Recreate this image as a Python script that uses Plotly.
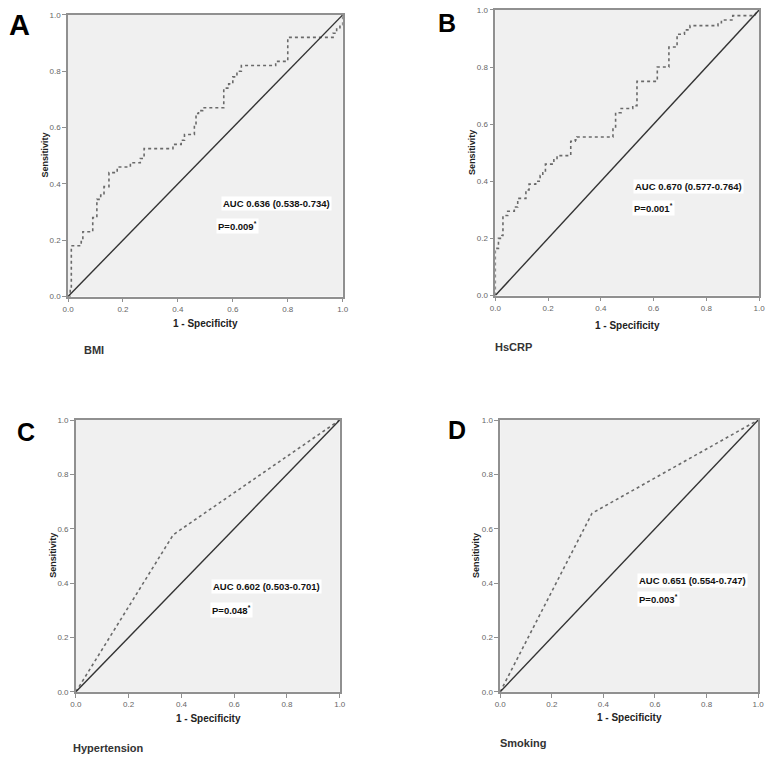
import plotly.graph_objects as go

W, H = 774, 763

# ---- data ----
bmi_fpr = [0.0, 0.008, 0.008, 0.012, 0.012, 0.048, 0.048, 0.054, 0.054, 0.063, 0.063, 0.090, 0.090, 0.105, 0.105,
           0.119, 0.119, 0.131, 0.131, 0.149, 0.149, 0.179, 0.179, 0.227, 0.227, 0.263, 0.263, 0.277, 0.277,
           0.382, 0.382, 0.412, 0.412, 0.424, 0.424, 0.460, 0.460, 0.466, 0.466, 0.475, 0.475, 0.490, 0.490,
           0.567, 0.567, 0.585, 0.585, 0.600, 0.600, 0.615, 0.615, 0.631, 0.631, 0.756, 0.756, 0.800, 0.800,
           0.950, 0.950, 0.965, 0.965, 0.978, 0.978, 0.990, 0.990, 1.0, 1.0]
bmi_tpr = [0.0, 0.0, 0.030, 0.030, 0.180, 0.180, 0.195, 0.195, 0.230, 0.230, 0.230, 0.230, 0.280, 0.280, 0.345,
           0.345, 0.360, 0.360, 0.390, 0.390, 0.440, 0.440, 0.460, 0.460, 0.475, 0.475, 0.490, 0.490, 0.525,
           0.525, 0.540, 0.540, 0.555, 0.555, 0.575, 0.575, 0.610, 0.610, 0.650, 0.650, 0.660, 0.660, 0.670,
           0.670, 0.740, 0.740, 0.755, 0.755, 0.780, 0.780, 0.800, 0.800, 0.820, 0.820, 0.835, 0.835, 0.920,
           0.920, 0.920, 0.920, 0.935, 0.935, 0.950, 0.950, 0.965, 0.965, 1.0]

crp_fpr = [0.0, 0.0, 0.012, 0.012, 0.025, 0.025, 0.029, 0.029, 0.047, 0.047, 0.072, 0.072, 0.085, 0.085, 0.116,
           0.116, 0.128, 0.128, 0.153, 0.153, 0.170, 0.170, 0.180, 0.180, 0.190, 0.190, 0.222, 0.222, 0.234,
           0.234, 0.253, 0.253, 0.286, 0.286, 0.303, 0.303, 0.309, 0.309, 0.446, 0.446, 0.456, 0.456, 0.477,
           0.477, 0.521, 0.521, 0.537, 0.537, 0.614, 0.614, 0.658, 0.658, 0.689, 0.689, 0.717, 0.717, 0.738,
           0.738, 0.844, 0.844, 0.857, 0.857, 0.900, 0.900, 0.985, 0.985, 1.0]
crp_tpr = [0.0, 0.165, 0.165, 0.200, 0.200, 0.210, 0.210, 0.280, 0.280, 0.295, 0.295, 0.310, 0.310, 0.340, 0.340,
           0.370, 0.370, 0.390, 0.390, 0.400, 0.400, 0.420, 0.420, 0.430, 0.430, 0.460, 0.460, 0.475, 0.475,
           0.490, 0.490, 0.490, 0.490, 0.540, 0.540, 0.545, 0.545, 0.555, 0.555, 0.590, 0.590, 0.640, 0.640,
           0.655, 0.655, 0.665, 0.665, 0.750, 0.750, 0.800, 0.800, 0.870, 0.870, 0.915, 0.915, 0.930, 0.930,
           0.945, 0.945, 0.955, 0.955, 0.965, 0.965, 0.980, 0.980, 0.985, 1.0]

htn_fpr = [0.0, 0.369, 1.0]
htn_tpr = [0.0, 0.578, 1.0]

smk_fpr = [0.0, 0.356, 1.0]
smk_tpr = [0.0, 0.657, 1.0]

ref_line = [0.0, 1.0]

panel_letters = ["A", "B", "C", "D"]
panel_names = ["BMI", "HsCRP", "Hypertension", "Smoking"]
auc_texts = ["AUC 0.636 (0.538-0.734)", "AUC 0.670 (0.577-0.764)",
             "AUC 0.602 (0.503-0.701)", "AUC 0.651 (0.554-0.747)"]
p_texts = ["P=0.009<sup>*</sup>", "P=0.001<sup>*</sup>", "P=0.048<sup>*</sup>", "P=0.003<sup>*</sup>"]
tick_vals = [0.0, 0.2, 0.4, 0.6, 0.8, 1.0]
tick_text = ["0.0", "0.2", "0.4", "0.6", "0.8", "1.0"]

curves = [(bmi_fpr, bmi_tpr), (crp_fpr, crp_tpr), (htn_fpr, htn_tpr), (smk_fpr, smk_tpr)]

# ---- layout (pixel boxes of each plot area: left, right, top, bottom) ----
boxes = [(63, 342, 11, 296), (497, 765, 6, 295), (71, 339, 421, 696), (502, 764, 421, 696)]
letter_pos = [(14, 21), (448, 19), (20, 433), (458, 431)]
letter_size = [29, 25, 25, 25]
ytitle_pos = [(40, 153), (474, 150), (48, 558), (478, 558)]
xtitle_pos = [(203, 323), (631, 325), (206, 723), (633, 722)]
name_pos = [(77, 350), (495, 347), (66, 753), (500, 748)]
auc_pos = [(0.556, 0.33), (0.522, 0.38), (0.511, 0.389), (0.53, 0.41)]
p_pos = [(0.538, 0.25), (0.52, 0.305), (0.507, 0.302), (0.53, 0.342)]

FONT = "Arial, Liberation Sans, sans-serif"

def px(x):
    return x / W

def py(y):
    return 1 - y / H

fig = go.Figure()
annotations = []

for i, (fpr, tpr) in enumerate(curves):
    n = "" if i == 0 else str(i + 1)
    xa, ya = "x" + n, "y" + n
    fig.add_trace(go.Scatter(x=fpr, y=tpr, mode="lines", xaxis=xa, yaxis=ya,
                             line=dict(color="#6a6a6a", width=1.6, dash="dot"), showlegend=False))
    fig.add_trace(go.Scatter(x=ref_line, y=ref_line, mode="lines", xaxis=xa, yaxis=ya,
                             line=dict(color="#333333", width=1.4), showlegend=False))
    l, r, t, b = boxes[i]
    axis_common = dict(range=[0, 1], tickvals=tick_vals, ticktext=tick_text, showgrid=False, zeroline=False,
                       showline=True, linecolor="#909090", linewidth=1.5, mirror=True,
                       ticks="outside", ticklen=4, tickcolor="#909090", tickwidth=1,
                       tickfont=dict(family=FONT, size=8, color="#666666"), fixedrange=True)
    fig.update_layout(**{
        "xaxis" + n: dict(domain=[px(l), px(r)], anchor=ya, **axis_common),
        "yaxis" + n: dict(domain=[py(b), py(t)], anchor=xa, **axis_common),
    })
    lx, ly = letter_pos[i]
    annotations.append(dict(text="<b>" + panel_letters[i] + "</b>", x=px(lx), y=py(ly), xref="paper", yref="paper",
                            xanchor="center", yanchor="middle", showarrow=False,
                            font=dict(family=FONT, size=letter_size[i], color="#000000")))
    tx, ty = ytitle_pos[i]
    annotations.append(dict(text="<b>Sensitivity</b>", x=px(tx), y=py(ty), xref="paper", yref="paper",
                            xanchor="center", yanchor="middle", showarrow=False, textangle=-90,
                            font=dict(family=FONT, size=9, color="#222222")))
    tx, ty = xtitle_pos[i]
    annotations.append(dict(text="<b>1 - Specificity</b>", x=px(tx), y=py(ty), xref="paper", yref="paper",
                            xanchor="center", yanchor="middle", showarrow=False,
                            font=dict(family=FONT, size=10, color="#222222")))
    tx, ty = name_pos[i]
    annotations.append(dict(text="<b>" + panel_names[i] + "</b>", x=px(tx), y=py(ty), xref="paper", yref="paper",
                            xanchor="left", yanchor="middle", showarrow=False,
                            font=dict(family=FONT, size=11, color="#333333")))
    ax_, ay_ = auc_pos[i]
    annotations.append(dict(text="<b>" + auc_texts[i] + "</b>", x=ax_, y=ay_, xref=xa, yref=ya,
                            xanchor="left", yanchor="middle", showarrow=False, bgcolor="#ffffff", borderpad=1,
                            font=dict(family=FONT, size=9.5, color="#111111")))
    px_, py_ = p_pos[i]
    annotations.append(dict(text="<b>" + p_texts[i] + "</b>", x=px_, y=py_, xref=xa, yref=ya,
                            xanchor="left", yanchor="middle", showarrow=False, bgcolor="#ffffff", borderpad=1,
                            font=dict(family=FONT, size=9.5, color="#111111")))

fig.update_layout(width=W, height=H, margin=dict(l=0, r=0, t=0, b=0), paper_bgcolor="#ffffff",
                  plot_bgcolor="#f0f0f0", annotations=annotations, showlegend=False)

fig.write_html("out.html", config={"displayModeBar": False},
               post_script="document.body.style.margin='0';document.body.style.overflow='hidden';")
